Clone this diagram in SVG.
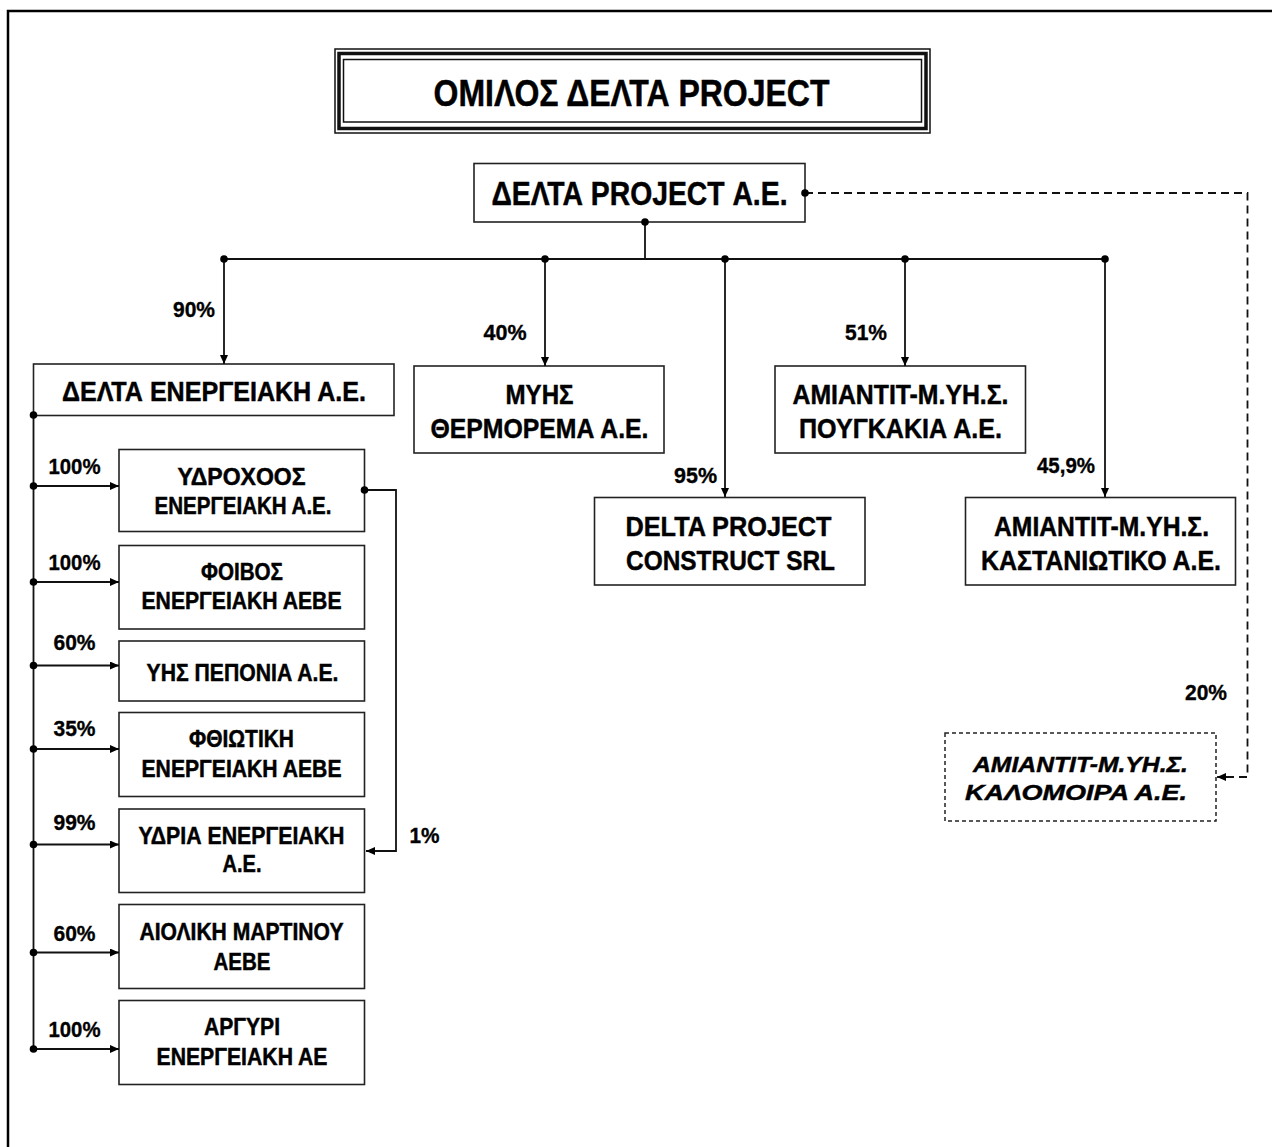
<svg xmlns="http://www.w3.org/2000/svg" width="1272" height="1147" viewBox="0 0 1272 1147">
<style>
  .box { fill: #fff; stroke: #222; stroke-width: 1.6; }
  .dbox { fill: #fff; stroke: #222; stroke-width: 1.5; stroke-dasharray: 4 3; }
  .t { font-family: "Liberation Sans", Arial, sans-serif; font-weight: bold; fill: #000; stroke: #000; stroke-width: 0.45; text-anchor: middle; }
  .n28 { font-size: 28px; }
  .n23 { font-size: 23px; }
  .lbl { font-family: "Liberation Sans", Arial, sans-serif; font-weight: bold; font-size: 22px; fill: #000; stroke: #000; stroke-width: 0.35; text-anchor: middle; }
  .ln { fill: none; stroke: #111; stroke-width: 1.8; }
  .dash { fill: none; stroke: #111; stroke-width: 1.8; stroke-dasharray: 8 5; }
  .dot { fill: #000; }
</style>
<defs>
  <marker id="arr" markerUnits="userSpaceOnUse" markerWidth="9" markerHeight="8" refX="9" refY="4" orient="auto">
    <path d="M0,0 L9,4 L0,8 z" fill="#000"/>
  </marker>
</defs>

<path d="M8,1147 L8,11 L1272,11" fill="none" stroke="#000" stroke-width="2.5"/>

<g id="title">
  <rect x="335" y="49" width="595" height="84" fill="#fff" stroke="#111" stroke-width="1.5"/>
  <rect x="339" y="53.5" width="587" height="75" fill="none" stroke="#111" stroke-width="3.5"/>
  <rect x="343.5" y="59.5" width="578" height="62.5" fill="none" stroke="#111" stroke-width="1.5"/>
  <text class="t" x="631.5" y="106" font-size="36" textLength="396" lengthAdjust="spacingAndGlyphs">ΟΜΙΛΟΣ ΔΕΛΤΑ PROJECT</text>
</g>

<g id="delta-project">
  <rect class="box" x="474" y="163.5" width="331" height="58.5"/>
  <text class="t" x="639.5" y="205" font-size="33" textLength="296" lengthAdjust="spacingAndGlyphs">ΔΕΛΤΑ PROJECT Α.Ε.</text>
</g>

<g id="delta-energeiaki">
  <rect class="box" x="33.5" y="364" width="360.5" height="51.5"/>
  <text class="t" x="214" y="401" font-size="27" textLength="304" lengthAdjust="spacingAndGlyphs">ΔΕΛΤΑ ΕΝΕΡΓΕΙΑΚΗ Α.Ε.</text>
</g>

<g id="myhs">
  <rect class="box" x="414" y="366" width="250" height="87"/>
  <text class="t n28" x="539.5" y="404" textLength="68" lengthAdjust="spacingAndGlyphs">ΜΥΗΣ</text>
  <text class="t n28" x="539.5" y="438" textLength="218" lengthAdjust="spacingAndGlyphs">ΘΕΡΜΟΡΕΜΑ Α.Ε.</text>
</g>

<g id="pougkakia">
  <rect class="box" x="775" y="366" width="250.5" height="87"/>
  <text class="t n28" x="900.5" y="404" textLength="216" lengthAdjust="spacingAndGlyphs">ΑΜΙΑΝΤΙΤ-Μ.ΥΗ.Σ.</text>
  <text class="t n28" x="900.5" y="438" textLength="203" lengthAdjust="spacingAndGlyphs">ΠΟΥΓΚΑΚΙΑ Α.Ε.</text>
</g>

<g id="delta-construct">
  <rect class="box" x="594.5" y="497.5" width="270.5" height="87.5"/>
  <text class="t n28" x="728.5" y="536" textLength="206" lengthAdjust="spacingAndGlyphs">DELTA PROJECT</text>
  <text class="t n28" x="730.5" y="570" textLength="209" lengthAdjust="spacingAndGlyphs">CONSTRUCT SRL</text>
</g>

<g id="kastaniotiko">
  <rect class="box" x="965.5" y="497.5" width="270" height="87.5"/>
  <text class="t n28" x="1101.5" y="536" textLength="215" lengthAdjust="spacingAndGlyphs">ΑΜΙΑΝΤΙΤ-Μ.ΥΗ.Σ.</text>
  <text class="t n28" x="1101" y="570" textLength="240" lengthAdjust="spacingAndGlyphs">ΚΑΣΤΑΝΙΩΤΙΚΟ Α.Ε.</text>
</g>

<g id="kalomoira">
  <rect class="dbox" x="945" y="733" width="271" height="88"/>
  <text class="t" x="1080.5" y="772" font-size="23" font-style="italic" textLength="215" lengthAdjust="spacingAndGlyphs">ΑΜΙΑΝΤΙΤ-Μ.ΥΗ.Σ.</text>
  <text class="t" x="1076" y="800" font-size="23" font-style="italic" textLength="222" lengthAdjust="spacingAndGlyphs">ΚΑΛΟΜΟΙΡΑ Α.Ε.</text>
</g>

<g id="ydroxoos">
  <rect class="box" x="119" y="449.5" width="245.5" height="82"/>
  <text class="t n23" x="241.5" y="484.5" textLength="128" lengthAdjust="spacingAndGlyphs">ΥΔΡΟΧΟΟΣ</text>
  <text class="t n23" x="243" y="513.5" textLength="177" lengthAdjust="spacingAndGlyphs">ΕΝΕΡΓΕΙΑΚΗ Α.Ε.</text>
</g>

<g id="foivos">
  <rect class="box" x="119" y="545.5" width="245.5" height="83.5"/>
  <text class="t n23" x="242" y="579.5" textLength="82" lengthAdjust="spacingAndGlyphs">ΦΟΙΒΟΣ</text>
  <text class="t n23" x="241.5" y="609" textLength="200" lengthAdjust="spacingAndGlyphs">ΕΝΕΡΓΕΙΑΚΗ ΑΕΒΕ</text>
</g>

<g id="peponia">
  <rect class="box" x="119" y="641" width="245.5" height="60"/>
  <text class="t n23" x="242.5" y="681" textLength="192" lengthAdjust="spacingAndGlyphs">ΥΗΣ ΠΕΠΟΝΙΑ Α.Ε.</text>
</g>

<g id="fthiotiki">
  <rect class="box" x="119" y="712.5" width="245.5" height="84"/>
  <text class="t n23" x="241.5" y="746.5" textLength="105" lengthAdjust="spacingAndGlyphs">ΦΘΙΩΤΙΚΗ</text>
  <text class="t n23" x="241.5" y="776.5" textLength="200" lengthAdjust="spacingAndGlyphs">ΕΝΕΡΓΕΙΑΚΗ ΑΕΒΕ</text>
</g>

<g id="ydria">
  <rect class="box" x="119" y="809" width="245.5" height="83.5"/>
  <text class="t n23" x="241.5" y="843.5" textLength="206" lengthAdjust="spacingAndGlyphs">ΥΔΡΙΑ ΕΝΕΡΓΕΙΑΚΗ</text>
  <text class="t n23" x="242" y="872" textLength="39" lengthAdjust="spacingAndGlyphs">Α.Ε.</text>
</g>

<g id="aioliki">
  <rect class="box" x="119" y="904.5" width="245.5" height="84"/>
  <text class="t n23" x="241.5" y="939.5" textLength="204" lengthAdjust="spacingAndGlyphs">ΑΙΟΛΙΚΗ ΜΑΡΤΙΝΟΥ</text>
  <text class="t n23" x="242" y="969.5" textLength="57" lengthAdjust="spacingAndGlyphs">ΑΕΒΕ</text>
</g>

<g id="argyri">
  <rect class="box" x="119" y="1000.5" width="245.5" height="84"/>
  <text class="t n23" x="242" y="1035" textLength="76" lengthAdjust="spacingAndGlyphs">ΑΡΓΥΡΙ</text>
  <text class="t n23" x="242" y="1064.5" textLength="171" lengthAdjust="spacingAndGlyphs">ΕΝΕΡΓΕΙΑΚΗ ΑΕ</text>
</g>

<g id="connectors">
  <line class="ln" x1="645" y1="222" x2="645" y2="259"/>
  <line class="ln" x1="224" y1="259" x2="1105" y2="259"/>
  <line class="ln" x1="224" y1="259" x2="224" y2="364" marker-end="url(#arr)"/>
  <line class="ln" x1="545" y1="259" x2="545" y2="366" marker-end="url(#arr)"/>
  <line class="ln" x1="725" y1="259" x2="725" y2="497" marker-end="url(#arr)"/>
  <line class="ln" x1="905" y1="259" x2="905" y2="366" marker-end="url(#arr)"/>
  <line class="ln" x1="1105" y1="259" x2="1105" y2="497" marker-end="url(#arr)"/>
  <circle class="dot" cx="645" cy="222" r="3.8"/>
  <circle class="dot" cx="224" cy="259" r="3.8"/>
  <circle class="dot" cx="545" cy="259" r="3.8"/>
  <circle class="dot" cx="725" cy="259" r="3.8"/>
  <circle class="dot" cx="905" cy="259" r="3.8"/>
  <circle class="dot" cx="1105" cy="259" r="3.8"/>

  <path class="dash" d="M805,193 L1247.5,193 L1247.5,777 L1226,777"/>
  <line class="ln" x1="1227" y1="777" x2="1217" y2="777" marker-end="url(#arr)"/>
  <circle class="dot" cx="805" cy="193" r="3.8"/>

  <line class="ln" x1="33.5" y1="414" x2="33.5" y2="1049"/>
  <circle class="dot" cx="33.5" cy="415" r="3.8"/>
  <line class="ln" x1="33.5" y1="486" x2="119" y2="486" marker-end="url(#arr)"/>
  <line class="ln" x1="33.5" y1="582" x2="119" y2="582" marker-end="url(#arr)"/>
  <line class="ln" x1="33.5" y1="665.5" x2="119" y2="665.5" marker-end="url(#arr)"/>
  <line class="ln" x1="33.5" y1="749" x2="119" y2="749" marker-end="url(#arr)"/>
  <line class="ln" x1="33.5" y1="844.5" x2="119" y2="844.5" marker-end="url(#arr)"/>
  <line class="ln" x1="33.5" y1="952.5" x2="119" y2="952.5" marker-end="url(#arr)"/>
  <line class="ln" x1="33.5" y1="1049" x2="119" y2="1049" marker-end="url(#arr)"/>
  <circle class="dot" cx="33.5" cy="486" r="3.8"/>
  <circle class="dot" cx="33.5" cy="582" r="3.8"/>
  <circle class="dot" cx="33.5" cy="665.5" r="3.8"/>
  <circle class="dot" cx="33.5" cy="749" r="3.8"/>
  <circle class="dot" cx="33.5" cy="844.5" r="3.8"/>
  <circle class="dot" cx="33.5" cy="952.5" r="3.8"/>
  <circle class="dot" cx="33.5" cy="1049" r="3.8"/>

  <path class="ln" d="M364.5,490 L396,490 L396,851 L366,851" marker-end="url(#arr)"/>
  <circle class="dot" cx="364.5" cy="490" r="3.8"/>

  <text class="lbl" x="194" y="317" textLength="42" lengthAdjust="spacingAndGlyphs">90%</text>
  <text class="lbl" x="505" y="340" textLength="43" lengthAdjust="spacingAndGlyphs">40%</text>
  <text class="lbl" x="866" y="340" textLength="42" lengthAdjust="spacingAndGlyphs">51%</text>
  <text class="lbl" x="695.5" y="483" textLength="43" lengthAdjust="spacingAndGlyphs">95%</text>
  <text class="lbl" x="1066" y="473" textLength="58" lengthAdjust="spacingAndGlyphs">45,9%</text>
  <text class="lbl" x="1206" y="700" textLength="42" lengthAdjust="spacingAndGlyphs">20%</text>
  <text class="lbl" x="424.5" y="843" textLength="30" lengthAdjust="spacingAndGlyphs">1%</text>
  <text class="lbl" x="74.5" y="474" textLength="52" lengthAdjust="spacingAndGlyphs">100%</text>
  <text class="lbl" x="74.5" y="570" textLength="52" lengthAdjust="spacingAndGlyphs">100%</text>
  <text class="lbl" x="74.5" y="650" textLength="42" lengthAdjust="spacingAndGlyphs">60%</text>
  <text class="lbl" x="74.5" y="736" textLength="42" lengthAdjust="spacingAndGlyphs">35%</text>
  <text class="lbl" x="74.5" y="830" textLength="42" lengthAdjust="spacingAndGlyphs">99%</text>
  <text class="lbl" x="74.5" y="941" textLength="42" lengthAdjust="spacingAndGlyphs">60%</text>
  <text class="lbl" x="74.5" y="1037" textLength="52" lengthAdjust="spacingAndGlyphs">100%</text>
</g>
</svg>
